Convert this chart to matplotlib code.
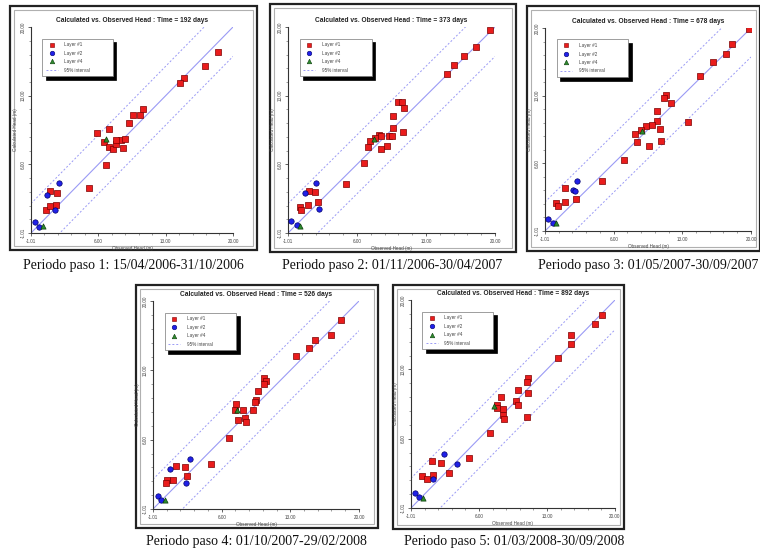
import matplotlib
matplotlib.use("Agg")
import matplotlib.pyplot as plt
from matplotlib.lines import Line2D
from matplotlib.patches import Rectangle

# ---------------- data (observed, calculated heads in m) ----------------
titles = ["Calculated vs. Observed Head : Time = 192 days",
          "Calculated vs. Observed Head : Time = 373 days",
          "Calculated vs. Observed Head : Time = 678 days",
          "Calculated vs. Observed Head : Time = 526 days",
          "Calculated vs. Observed Head : Time = 892 days"]
captions = ["Periodo paso 1: 15/04/2006-31/10/2006",
            "Periodo paso 2: 01/11/2006-30/04/2007",
            "Periodo paso 3: 01/05/2007-30/09/2007",
            "Periodo paso 4: 01/10/2007-29/02/2008",
            "Periodo paso 5: 01/03/2008-30/09/2008"]
legend_labels = ["Layer #1", "Layer #2", "Layer #4", "95% interval"]
tick_values = [-1.01, 6.00, 13.00, 20.00]
tick_labels = ["-1.01", "6.00", "13.00", "20.00"]
interval = 3.0

p1_l1_obs = [18.44, 17.13, 14.91, 14.46, 10.65, 10.31, 9.62, 9.20, 7.12, 5.81, 6.60, 7.12, 7.47,
             7.88, 8.40, 8.75, 8.58, 7.88, 6.78, 5.01, 0.96, 1.72, 0.51, 0.96, 1.55]
p1_l1_calc = [17.46, 16.04, 14.75, 14.24, 11.60, 11.02, 10.99, 10.17, 9.60, 9.22, 8.31, 7.80, 7.53,
              8.07, 8.48, 8.55, 7.63, 8.48, 5.94, 3.53, 3.23, 3.12, 1.29, 1.70, 1.87]
p1_l2_obs = [1.90, 0.62, 1.48, -0.59, -0.18]
p1_l2_calc = [4.14, 2.85, 1.36, 0.07, -0.40]
p1_l4_obs = [0.20, 6.74]
p1_l4_calc = [-0.33, 8.55]

p2_l1_obs = [19.49, 18.04, 16.85, 15.83, 15.09, 10.11, 10.51, 10.78, 9.60, 9.60, 10.68, 8.21, 8.48,
             9.22, 9.56, 7.87, 7.29, 7.06, 8.99, 8.48, 6.72, 4.92, 1.12, 1.77, 2.04, 1.02, 0.18, 0.28]
p2_l1_calc = [19.66, 17.97, 17.02, 16.17, 15.19, 12.38, 12.31, 11.77, 10.95, 9.67, 9.26, 8.99, 8.89,
              8.92, 8.89, 8.65, 8.38, 7.73, 7.90, 7.53, 6.11, 3.97, 3.29, 3.16, 2.14, 1.87, 1.63, 1.29]
p2_l2_obs = [1.87, 0.75, 2.11, -0.67, -0.09]
p2_l2_calc = [4.07, 3.06, 1.46, 0.24, -0.20]
p2_l4_obs = [0.18, 7.73]
p2_l4_calc = [-0.26, 8.55]

p3_l1_obs = [19.83, 18.10, 17.42, 16.09, 14.80, 11.29, 11.13, 11.84, 10.38, 10.38, 13.54, 9.94, 9.29,
             8.78, 10.72, 8.17, 8.41, 10.82, 9.60, 7.05, 4.84, 1.03, 1.03, 2.12, 0.08, 0.35]
p3_l1_calc = [19.90, 18.38, 17.31, 16.48, 15.06, 13.08, 12.74, 12.28, 11.38, 10.41, 10.31, 9.96, 9.86,
              9.44, 9.55, 9.03, 8.16, 8.30, 7.78, 6.32, 4.18, 3.45, 2.03, 2.31, 1.90, 1.59]
p3_l2_obs = [2.22, 1.88, 2.05, -0.67, -0.16]
p3_l2_calc = [4.18, 3.21, 3.18, 0.20, -0.18]
p3_l4_obs = [0.11, 8.85]
p3_l4_calc = [-0.18, 9.34]

p4_l1_obs = [18.13, 17.18, 15.55, 14.87, 13.61, 10.28, 10.48, 10.28, 9.70, 9.53, 9.36, 9.19, 7.42,
             7.32, 8.17, 7.66, 8.40, 8.51, 6.71, 4.94, 1.30, 2.22, 2.46, 1.03, 0.42, 0.35]
p4_l1_calc = [18.04, 16.52, 16.02, 15.27, 14.40, 12.21, 11.90, 11.63, 10.86, 9.95, 9.78, 9.04, 9.61,
              8.94, 8.94, 8.03, 8.16, 7.76, 6.17, 3.54, 3.37, 3.24, 2.30, 1.96, 1.89, 1.62]
p4_l2_obs = [2.80, 0.76, 2.32, -0.50, -0.16]
p4_l2_calc = [4.08, 3.04, 1.62, 0.34, -0.07]
p4_l4_obs = [0.18, 7.56]
p4_l4_calc = [-0.07, 8.94]

p5_l1_obs = [18.63, 17.94, 15.43, 15.43, 14.16, 11.07, 10.90, 10.04, 11.07, 8.26, 9.80, 10.04, 7.88,
             7.81, 8.50, 8.50, 8.60, 10.97, 7.13, 4.96, 1.19, 2.05, 2.94, 0.09, 0.60, 1.29]
p5_l1_calc = [18.48, 17.57, 16.45, 15.53, 14.14, 12.11, 11.70, 10.86, 10.58, 10.18, 9.77, 9.40, 9.40,
              9.13, 8.99, 8.38, 7.97, 8.21, 6.52, 4.08, 3.74, 3.50, 2.55, 2.21, 1.87, 2.28]
p5_l2_obs = [2.42, 3.76, 1.22, -0.60, -0.19]
p5_l2_calc = [4.41, 3.46, 1.87, 0.52, 0.11]
p5_l4_obs = [0.26, 7.54]
p5_l4_calc = [0.01, 9.33]

panels = [
    (p1_l1_obs, p1_l1_calc, p1_l2_obs, p1_l2_calc, p1_l4_obs, p1_l4_calc),
    (p2_l1_obs, p2_l1_calc, p2_l2_obs, p2_l2_calc, p2_l4_obs, p2_l4_calc),
    (p3_l1_obs, p3_l1_calc, p3_l2_obs, p3_l2_calc, p3_l4_obs, p3_l4_calc),
    (p4_l1_obs, p4_l1_calc, p4_l2_obs, p4_l2_calc, p4_l4_obs, p4_l4_calc),
    (p5_l1_obs, p5_l1_calc, p5_l2_obs, p5_l2_calc, p5_l4_obs, p5_l4_calc),
]

# ---------------- layout (pixels) ----------------
W, H = 760, 549
frames = [(10, 6, 257, 250), (270, 4, 516, 252), (527, 6, 760, 251),
          (136, 285, 378, 528), (393, 285, 624, 529)]
axboxes = [(31, 27, 233, 233), (288, 27, 495, 233), (545, 28, 751, 231),
           (153, 301, 359, 509), (411, 300, 615, 508)]
cap_pos = [(133, 265), (392, 265), (648, 265), (256, 541), (514, 541)]

RED, RED_E = "#ea1c1c", "#7a0000"
BLUE, BLUE_E = "#2020e8", "#00006a"
GREEN, GREEN_E = "#2e8b2e", "#0a3d0a"
LINE = "#9a9af5"

plt.rcParams['font.family'] = ['Liberation Sans', 'DejaVu Sans']
fig = plt.figure(figsize=(W / 100, H / 100), dpi=100)
fig.patch.set_facecolor("white")


def fx(x):
    return x / W


def fy(y):
    return 1 - y / H


for i, (fr, ab) in enumerate(zip(frames, axboxes)):
    x0, y0, x1, y1 = fr
    fig.patches.append(Rectangle((fx(x0), fy(y1)), fx(x1 - x0), (y1 - y0) / H,
                                 transform=fig.transFigure, facecolor="white",
                                 edgecolor="#222222", lw=1.6, zorder=-2))
    fig.patches.append(Rectangle((fx(x0 + 4), fy(y1 - 4)), fx(x1 - x0 - 8), (y1 - y0 - 8) / H,
                                 transform=fig.transFigure, facecolor="none",
                                 edgecolor="#b0b0b0", lw=0.8, zorder=-1))
    ax0, ay0, ax1, ay1 = ab
    ax = fig.add_axes([fx(ax0), fy(ay1), fx(ax1 - ax0), (ay1 - ay0) / H])
    ax.set_zorder(2)
    ax.patch.set_alpha(0)
    ax.set_xlim(-1.01, 20.0)
    ax.set_ylim(-1.01, 20.0)
    l1x, l1y, l2x, l2y, l4x, l4y = panels[i]
    lim = [-1.01, 20.0]
    ax.plot(lim, lim, color=LINE, lw=0.8, zorder=1)
    ax.plot(lim, [v + interval for v in lim], color=LINE, lw=0.7, ls=(0, (2, 2)), zorder=1)
    ax.plot(lim, [v - interval for v in lim], color=LINE, lw=0.7, ls=(0, (2, 2)), zorder=1)
    ax.scatter(l1x, l1y, marker="s", s=14, c=RED, edgecolors=RED_E, linewidths=0.5, zorder=3)
    ax.scatter(l2x, l2y, marker="o", s=15, c=BLUE, edgecolors=BLUE_E, linewidths=0.5, zorder=3)
    ax.scatter(l4x, l4y, marker="^", s=14, c=GREEN, edgecolors=GREEN_E, linewidths=0.5, zorder=4)
    for s in ["top", "right"]:
        ax.spines[s].set_visible(False)
    for s in ["left", "bottom"]:
        ax.spines[s].set_color("#333333")
        ax.spines[s].set_linewidth(0.8)
    ax.set_xticks(tick_values)
    ax.set_xticklabels(tick_labels)
    ax.set_yticks(tick_values)
    ax.set_yticklabels(tick_labels, rotation=90, va="center")
    ax.set_xticks([tick_values[0] + k * 1.4 for k in range(16)], minor=True)
    ax.set_yticks([tick_values[0] + k * 1.4 for k in range(16)], minor=True)
    ax.tick_params(which="major", length=2.5, width=0.5, labelsize=3.3, pad=1.5,
                   colors="#333333", labelcolor="#444444")
    ax.tick_params(which="minor", length=1.5, width=0.4, colors="#555555")
    ax.set_xlabel("Observed Head (m)", fontsize=3.3, labelpad=2, color="#444444")
    ax.set_ylabel("Calculated Head (m)", fontsize=3.3, labelpad=2, color="#444444")
    ax.set_title(titles[i], fontsize=4.8, fontweight="bold", pad=3.5, color="#222222")

    handles = [Line2D([], [], marker="s", ls="none", ms=3.3, mfc=RED, mec=RED_E, mew=0.4),
               Line2D([], [], marker="o", ls="none", ms=3.3, mfc=BLUE, mec=BLUE_E, mew=0.4),
               Line2D([], [], marker="^", ls="none", ms=3.3, mfc=GREEN, mec=GREEN_E, mew=0.4),
               Line2D([], [], color=LINE, lw=0.7, ls=(0, (2, 2)))]
    leg = ax.legend(handles, legend_labels, loc="upper left",
                    bbox_to_anchor=(0.045, 0.955, 0.37, 0.0), mode="expand",
                    fontsize=3.3, frameon=True, fancybox=False, handlelength=2.5,
                    handletextpad=1.5, labelspacing=0.75, borderpad=0.8,
                    shadow={"ox": 2.5, "oy": -2.5, "color": "black", "alpha": 1})
    leg.get_frame().set_edgecolor("#777777")
    leg.get_frame().set_linewidth(0.5)
    for t in leg.get_texts():
        t.set_color("#444444")

for (cx, cy), txt in zip(cap_pos, captions):
    fig.text(fx(cx), fy(cy), txt, ha="center", va="center", fontsize=10,
             family=["Liberation Serif", "DejaVu Serif"], color="#111111")

fig.savefig("out.png", dpi=100, facecolor="white")
